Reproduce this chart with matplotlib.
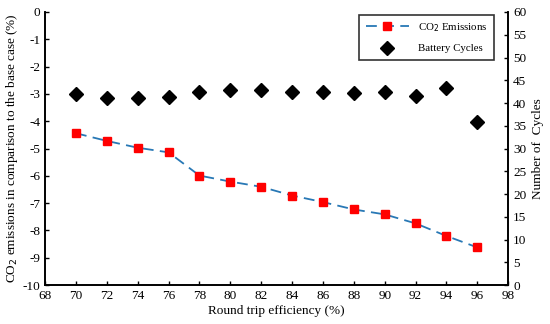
import matplotlib
matplotlib.use("Agg")
import matplotlib.pyplot as plt

# data
efficiency = [70, 72, 74, 76, 78, 80, 82, 84, 86, 88, 90, 92, 94, 96]
co2_change = [-4.44, -4.72, -4.97, -5.14, -5.99, -6.21, -6.40, -6.72, -6.96, -7.23, -7.41, -7.74, -8.20, -8.62]
battery_cycles = [41.9, 41.2, 41.0, 41.3, 42.5, 42.8, 42.9, 42.4, 42.4, 42.1, 42.4, 41.6, 43.3, 35.8]

plt.rcParams['font.family'] = 'Liberation Serif'
plt.rcParams['font.size'] = 9.5
plt.rcParams['axes.unicode_minus'] = False

fig = plt.figure(figsize=(5.5, 3.24), dpi=100)
ax = fig.add_axes([0.082, 0.12, 0.842, 0.843])
ax2 = ax.twinx()

l1, = ax.plot(efficiency, co2_change, color='#2878b5', linestyle=(0, (6, 3.5)), linewidth=1.3,
              marker='s', markersize=6.3, markerfacecolor='#ff0000', markeredgecolor='#ff0000',
              label='CO$_2$ Emissions', zorder=3)
l2, = ax2.plot(efficiency, battery_cycles, linestyle='none', marker='D', markersize=7.2,
               color='black', label='Battery Cycles')

ax.set_xlim(68, 98)
ax.set_xticks(range(68, 99, 2))
ax.set_ylim(-10, 0)
ax.set_yticks(range(-10, 1, 1))
ax2.set_ylim(0, 60)
ax2.set_yticks(range(0, 61, 5))

for a in (ax, ax2):
    a.spines['top'].set_visible(False)
    a.tick_params(direction='in', length=3, width=1)
    for s in a.spines.values():
        s.set_linewidth(1.2)

ax.set_xlabel('Round trip efficiency (%)', labelpad=2)
ax.set_ylabel('CO$_2$ emissions in comparison to the base case (%)', labelpad=2)
ax2.set_ylabel('Number of  Cycles', labelpad=4)

leg = ax2.legend([l1, l2], ['CO$_2$ Emissions', 'Battery Cycles'], loc='upper right',
                 bbox_to_anchor=(0.98, 1.01), fontsize=7.8, fancybox=False, edgecolor='#333333',
                 framealpha=1, handlelength=4, borderpad=0.6, labelspacing=0.9)
leg.get_frame().set_linewidth(1.2)

fig.savefig('out.png', dpi=100)
